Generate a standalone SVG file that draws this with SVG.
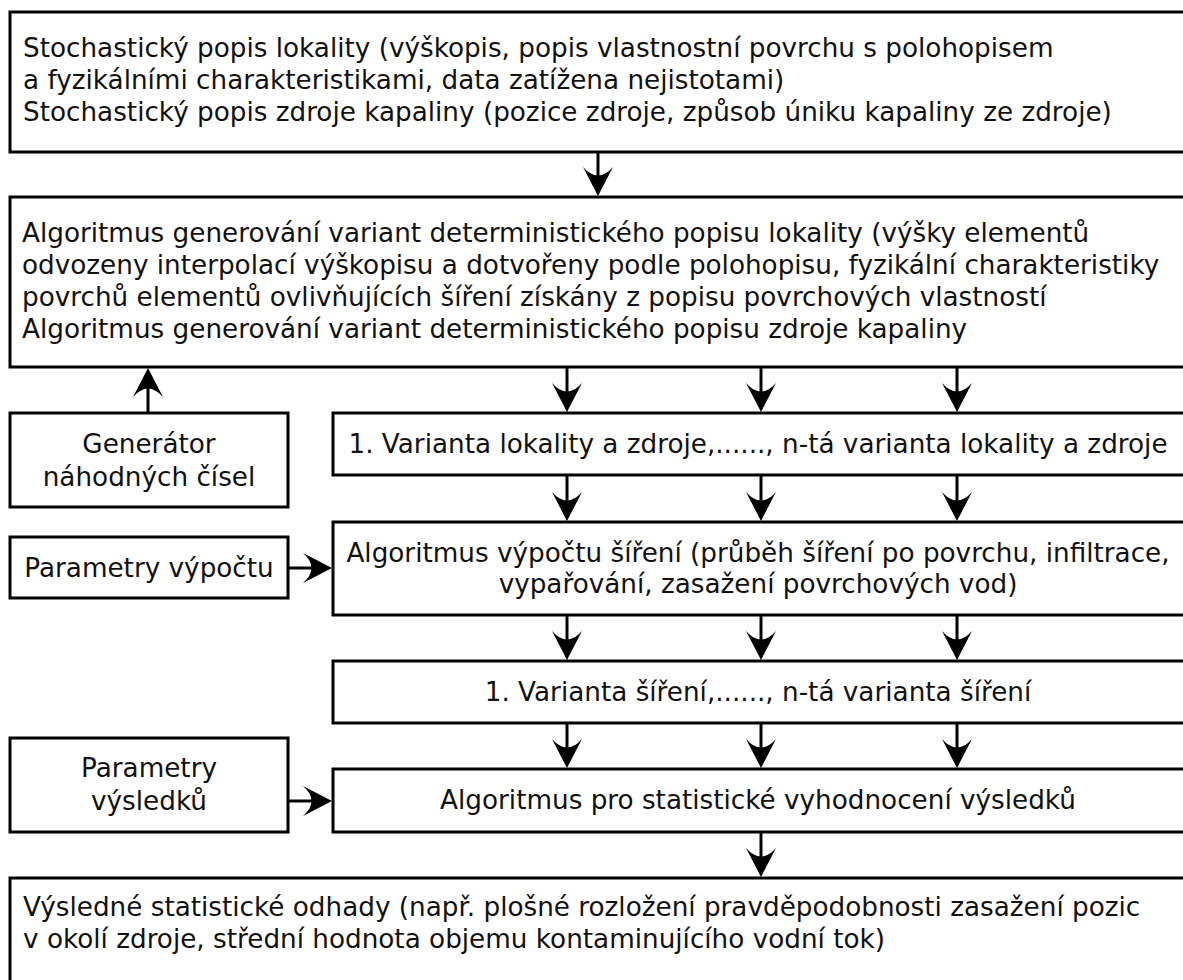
<svg xmlns="http://www.w3.org/2000/svg" xmlns:xlink="http://www.w3.org/1999/xlink" width="1183" height="980" viewBox="0 0 1183 980">
<style>
.box{fill:#fff;stroke:#000;stroke-width:3}
.t{font-family:"DejaVu Sans","Liberation Sans",sans-serif;font-size:26.25px;fill:#111}
.c{text-anchor:middle}
.ln{stroke:#000;stroke-width:3;fill:none}
</style>
<defs>
<path id="hd" d="M0,0 L-15,-29 Q0,-12 15,-29 Z" fill="#000"/>
</defs>
<rect x="0" y="0" width="1183" height="980" fill="#fff"/>
<g id="n1">
<rect class="box" x="10" y="12" width="1180" height="140"/>
<text class="t" x="23" y="57">Stochastický popis lokality (výškopis, popis vlastnostní povrchu s polohopisem</text>
<text class="t" x="23" y="89">a fyzikálními charakteristikami, data zatížena nejistotami)</text>
<text class="t" x="23" y="121">Stochastický popis zdroje kapaliny (pozice zdroje, způsob úniku kapaliny ze zdroje)</text>
</g>
<g id="n2">
<rect class="box" x="10" y="197" width="1180" height="170"/>
<text class="t" x="22" y="242">Algoritmus generování variant deterministického popisu lokality (výšky elementů</text>
<text class="t" x="22" y="274">odvozeny interpolací výškopisu a dotvořeny podle polohopisu, fyzikální charakteristiky</text>
<text class="t" x="22" y="306">povrchů elementů ovlivňujících šíření získány z popisu povrchových vlastností</text>
<text class="t" x="22" y="338">Algoritmus generování variant deterministického popisu zdroje kapaliny</text>
</g>
<g id="gen">
<rect class="box" x="10" y="413" width="278" height="94"/>
<text class="t c" x="149" y="453">Generátor</text>
<text class="t c" x="149" y="486">náhodných čísel</text>
</g>
<g id="var1">
<rect class="box" x="333" y="413" width="860" height="62"/>
<text class="t c" x="758" y="453">1. Varianta lokality a zdroje,......, n-tá varianta lokality a zdroje</text>
</g>
<g id="par1">
<rect class="box" x="10" y="537" width="278" height="61"/>
<text class="t c" x="149" y="577">Parametry výpočtu</text>
</g>
<g id="alg">
<rect class="box" x="333" y="522" width="860" height="93"/>
<text class="t c" x="758" y="562">Algoritmus výpočtu šíření (průběh šíření po povrchu, infiltrace,</text>
<text class="t c" x="758" y="593">vypařování, zasažení povrchových vod)</text>
</g>
<g id="var2">
<rect class="box" x="333" y="661" width="860" height="62"/>
<text class="t c" x="758" y="701">1. Varianta šíření,......, n-tá varianta šíření</text>
</g>
<g id="par2">
<rect class="box" x="10" y="738" width="278" height="94"/>
<text class="t c" x="149" y="777">Parametry</text>
<text class="t c" x="149" y="810">výsledků</text>
</g>
<g id="stat">
<rect class="box" x="333" y="769" width="860" height="63"/>
<text class="t c" x="758" y="809">Algoritmus pro statistické vyhodnocení výsledků</text>
</g>
<g id="final">
<rect class="box" x="10" y="878" width="1180" height="130"/>
<text class="t" x="23" y="916">Výsledné statistické odhady (např. plošné rozložení pravděpodobnosti zasažení pozic</text>
<text class="t" x="23" y="948">v okolí zdroje, střední hodnota objemu kontaminujícího vodní tok)</text>
</g>
<g id="connectors">
<path class="ln" d="M598,152V180 M567,367V395 M761,367V395 M957,367V395 M567,475V505 M761,475V505 M957,475V505 M567,615V645 M761,615V645 M957,615V645 M567,723V752 M761,723V752 M957,723V752 M761,832V862 M148,413V383 M288,568H318 M288,801H318"/>
<use xlink:href="#hd" transform="translate(598,196)"/>
<use xlink:href="#hd" transform="translate(567,412)"/>
<use xlink:href="#hd" transform="translate(761,412)"/>
<use xlink:href="#hd" transform="translate(957,412)"/>
<use xlink:href="#hd" transform="translate(567,521)"/>
<use xlink:href="#hd" transform="translate(761,521)"/>
<use xlink:href="#hd" transform="translate(957,521)"/>
<use xlink:href="#hd" transform="translate(567,660)"/>
<use xlink:href="#hd" transform="translate(761,660)"/>
<use xlink:href="#hd" transform="translate(957,660)"/>
<use xlink:href="#hd" transform="translate(567,768)"/>
<use xlink:href="#hd" transform="translate(761,768)"/>
<use xlink:href="#hd" transform="translate(957,768)"/>
<use xlink:href="#hd" transform="translate(761,877)"/>
<use xlink:href="#hd" transform="translate(148,368) rotate(180)"/>
<use xlink:href="#hd" transform="translate(332,568) rotate(-90)"/>
<use xlink:href="#hd" transform="translate(332,801) rotate(-90)"/>
</g>
</svg>
